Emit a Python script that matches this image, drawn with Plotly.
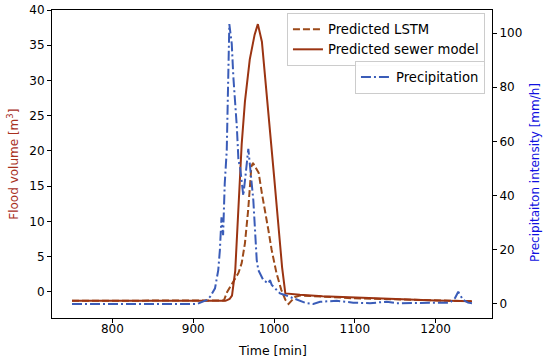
import plotly.graph_objects as go

# ---- data ----
t_sewer = [750, 940, 945, 948, 952, 956, 960, 964, 970, 976, 980, 985, 990, 995,
           1000, 1005, 1010, 1014, 1020, 1032, 1060, 1100, 1156, 1200, 1245]
v_sewer = [-1.25, -1.25, -1.0, -0.5, 3.0, 12.0, 21.0, 27.0, 33.0, 36.5, 38.0, 35.5,
           29.5, 23.0, 16.5, 10.0, 3.5, -0.2, -0.3, -0.4, -0.6, -0.8, -1.0, -1.2, -1.3]

t_lstm = [750, 938, 942, 948, 956, 960, 964, 968, 970, 972, 974, 981, 985, 989, 993,
          997, 1003, 1009, 1014, 1018, 1026, 1032, 1060, 1100, 1156, 1200, 1245]
v_lstm = [-1.25, -1.2, 0.0, 1.2, 2.7, 4.1, 6.9, 11.6, 15.5, 17.8, 18.3, 16.9, 14.0,
          11.6, 8.8, 6.0, 2.7, 0.3, -1.1, -1.7, -0.7, -0.5, -0.7, -0.9, -1.05, -1.2, -1.3]

t_prec = [750, 905, 917, 921, 927, 931, 933, 935, 937, 939, 941.5, 943.5, 944.7, 947.7,
          949.7, 954, 956, 958, 960, 962, 965.4, 968.2, 974.4, 976.5, 978.6, 980.6,
          986.8, 993, 995, 997.2, 1007.4, 1013.6, 1028, 1040, 1048.6, 1057, 1077.5,
          1098, 1118.7, 1139.4, 1151.8, 1217.7, 1224, 1228, 1234, 1240, 1245]
p_prec = [0, 0, 1.5, 2.7, 5.8, 12.5, 19.9, 32.0, 25.4, 44.4, 56.7, 83.7, 103.3, 96.0,
          83.7, 65.3, 53.0, 50.5, 44.4, 40.0, 49.3, 57.3, 38.3, 26.0, 16.2, 12.5,
          8.8, 7.6, 8.8, 7.0, 3.9, 3.3, 1.5, 0.3, 0.0, 0.8, 1.2,
          0.5, 0.3, 0.85, 0.3, 0.5, 2.2, 4.5, 1.5, 0.5, 0.3]

x_ticks = [800, 900, 1000, 1100, 1200]
y_ticks = [0, 5, 10, 15, 20, 25, 30, 35, 40]
y2_ticks = [0, 20, 40, 60, 80, 100]

FONT = "DejaVu Sans"
c_lstm = "#9c4a1a"
c_sewer = "#9b3412"
c_prec = "#3a5cb8"

fig = go.Figure()
fig.add_trace(go.Scatter(x=t_lstm, y=v_lstm, mode="lines", name="Predicted LSTM",
                         line=dict(color=c_lstm, width=2, dash="7px,3px"),
                         legend="legend"))
fig.add_trace(go.Scatter(x=t_sewer, y=v_sewer, mode="lines", name="Predicted sewer model",
                         line=dict(color=c_sewer, width=2), legend="legend"))
fig.add_trace(go.Scatter(x=t_prec, y=p_prec, mode="lines", name="Precipitation",
                         line=dict(color=c_prec, width=2, dash="10px,3px,2px,3px"),
                         yaxis="y2", legend="legend2"))

axis_common = dict(showline=True, linecolor="black", linewidth=1, ticks="outside",
                   ticklen=4, tickcolor="black", showgrid=False, zeroline=False,
                   automargin=False,
                   tickfont=dict(family=FONT, size=12, color="black"))

LEG_FONT = dict(family=FONT, size=13.2, color="black")

fig.update_layout(
    width=550, height=361,
    margin=dict(l=52, r=58, t=10, b=43),
    paper_bgcolor="white", plot_bgcolor="white",
    font=dict(family=FONT, size=12, color="black"),
    xaxis=dict(range=[725.25, 1269.75], tickvals=x_ticks, mirror=True,
               ticklabelstandoff=-4, **axis_common),
    yaxis=dict(range=[-3.69, 40.0], tickvals=y_ticks, **axis_common),
    yaxis2=dict(range=[-5.17, 108.5], tickvals=y2_ticks, overlaying="y", side="right",
                **axis_common),
    legend=dict(x=0.984, y=0.99, xanchor="right", yanchor="top",
                bgcolor="rgba(255,255,255,0.9)", bordercolor="#cccccc", borderwidth=1,
                font=LEG_FONT, itemwidth=30, tracegroupgap=0),
    legend2=dict(x=0.984, y=0.835, xanchor="right", yanchor="top",
                 bgcolor="rgba(255,255,255,0.9)", bordercolor="#cccccc", borderwidth=1,
                 font=LEG_FONT, itemwidth=30),
    showlegend=True,
    annotations=[
        dict(text="Time [min]", xref="paper", yref="paper", x=0.5, y=-0.107,
             xanchor="center", yanchor="middle", showarrow=False,
             font=dict(family=FONT, size=12.5, color="black")),
        dict(text="Flood volume [m<sup>3</sup>]", xref="paper", yref="paper",
             x=-0.0893, y=0.5, xanchor="center", yanchor="middle", textangle=-90,
             showarrow=False, font=dict(family=FONT, size=12, color="#a8301e")),
        dict(text="Precipitaiton intensity [mm/h]", xref="paper", yref="paper",
             x=1.0977, y=0.474, xanchor="center", yanchor="middle", textangle=-90,
             showarrow=False, font=dict(family=FONT, size=12, color="#1010e0")),
    ],
)

fig.write_html("out.html", config={"displayModeBar": False},
               post_script="document.body.style.margin='0';document.body.style.overflow='hidden';")
